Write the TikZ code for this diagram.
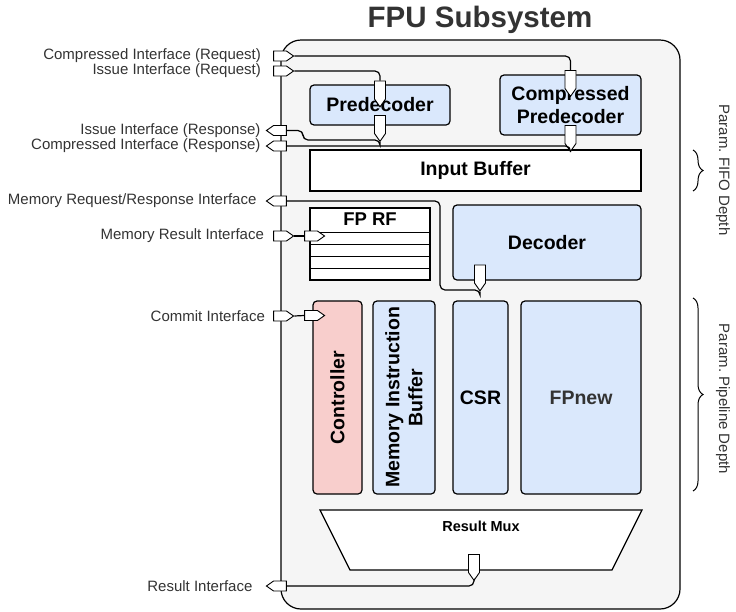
\documentclass[tikz,border=0pt]{standalone}
\usepackage{fontspec}
\setmainfont{Liberation Sans}
\usepackage{tikz}
\usetikzlibrary{shapes.symbols,decorations.pathreplacing,positioning}
\frenchspacing

\definecolor{fpblue}{HTML}{DAE8FC}
\definecolor{fpred}{HTML}{F8CECC}
\definecolor{fpgray}{HTML}{F5F5F5}
\definecolor{fptext}{HTML}{333333}

\tikzset{
	blk/.style={draw=black,line width=1.2pt,rounded corners=4pt,inner sep=0pt,align=center,
		font=\bfseries\fontsize{19.5}{23}\selectfont},
	port/.style={signal,draw=black,fill=white,line width=0.9pt,inner sep=0pt,signal pointer angle=70},
	hport/.style={port,minimum width=20pt,minimum height=10pt},
	vport/.style={port,minimum width=11pt,minimum height=18pt},
	lbl/.style={font=\fontsize{15}{17}\selectfont,text=fptext,inner sep=0pt},
	wire/.style={line width=1.2pt,rounded corners=5pt},
	param/.style={decorate,decoration={brace,amplitude=10pt},line width=1pt}
}

\begin{document}
\begin{tikzpicture}[x=1pt,y=-1pt]

	\useasboundingbox (0,0) rectangle (736,611);

	\node[font=\bfseries\fontsize{29.5}{32}\selectfont,text=fptext,anchor=base] (title) at (480,27) {FPU Subsystem};

	% subsystem frame
	\draw[fill=fpgray,line width=1.2pt,rounded corners=20pt] (281,40) rectangle (680,609);

	\node[blk,fill=fpblue,minimum width=140pt,minimum height=40pt] (pred) at (380,105) {Predecoder};
	\node[blk,fill=fpblue,minimum width=141pt,minimum height=60pt] (cpred) at (570.5,105) {Compressed\\Predecoder};
	\node[blk,fill=white,rounded corners=0pt,line width=2pt,minimum width=331pt,minimum height=41pt] (ibuf) at (475.5,170.5) {Input Buffer};

	% register file
	\node[blk,fill=white,rounded corners=0pt,line width=1.6pt,minimum width=120pt,minimum height=72pt] (rf) at (370,244) {};
	\node[font=\bfseries\fontsize{18.5}{20}\selectfont] (rftitle) at (370,219.5) {FP RF};
	\foreach \y in {232,244,256,268}
		\draw[line width=0.8pt] (310,\y) -- (430,\y);

	\node[blk,fill=fpblue,minimum width=188pt,minimum height=75pt] (dec) at (547,242.5) {Decoder};

	\node[blk,fill=fpred,rotate=90,minimum width=193pt,minimum height=49pt] (ctrl) at (337.5,397.5) {Controller};
	\node[blk,fill=fpblue,rotate=90,minimum width=193pt,minimum height=62pt] (mib) at (404,397.5) {Memory Instruction\\Buffer};
	\node[blk,fill=fpblue,minimum width=55pt,minimum height=193pt] (csr) at (480.5,397.5) {CSR};
	\node[blk,fill=fpblue,text=fptext,minimum width=120pt,minimum height=193pt] (fpnew) at (581,397.5) {FPnew};

	\draw[fill=white,line width=1.2pt] (320,510) -- (642,510) -- (612,570) -- (350,570) -- cycle;
	\node[font=\bfseries\fontsize{14.5}{16}\selectfont] (rmux) at (481,526) {Result Mux};

	% ports on the frame
	\node[hport,signal to=east] (crq) at (280,56) {};
	\node[hport,signal to=east] (irq) at (280,71) {};
	\node[hport,signal to=west] (irs) at (280,130.5) {};
	\node[hport,signal to=west] (crs) at (280,146) {};
	\node[hport,signal to=west] (mrr) at (280,201) {};
	\node[hport,signal to=east] (mri) at (280,236) {};
	\node[hport,signal to=east] (cmi) at (280,316) {};
	\node[hport,signal to=west] (rsi) at (280,586) {};

	% ports on the blocks
	\node[hport,signal to=east] (rfin) at (311,236) {};
	\node[hport,signal to=east] (ctlin) at (311,315.5) {};
	\node[vport,signal to=south] (pdin) at (380,90) {};
	\node[vport,signal to=south] (pdout) at (380,124.5) {};
	\node[vport,signal to=south] (cpin) at (570.5,79.5) {};
	\node[vport,signal to=south] (cpout) at (570.5,134.5) {};
	\node[vport,signal to=south] (decout) at (480,274) {};
	\node[vport,signal to=south] (rmout) at (474,563.5) {};

	\node[lbl,left=12pt of crq] (lcrq) {Compressed Interface (Request)};
	\node[lbl,left=12pt of irq] (lirq) {Issue Interface (Request)};
	\node[lbl,left=5pt of irs] (lirs) {Issue Interface (Response)};
	\node[lbl,left=5pt of crs] (lcrs) {Compressed Interface (Response)};
	\node[lbl,left=9pt of mrr] (lmrr) {Memory Request/Response Interface};
	\node[lbl,left=9pt of mri] (lmri) {Memory Result Interface};
	\node[lbl,left=8pt of cmi] (lcmi) {Commit Interface};
	\node[lbl,left=13pt of rsi] (lrsi) {Result Interface};

	% connections
	\coordinate (pbend) at (303,140);
	\coordinate (mbend) at (440,290);
	\draw[wire] (crq.east) -| (cpin.north);
	\draw[wire] (irq.east) -| (pdin.north);
	\draw[wire] (pdout.south) |- (pbend) |- (irs.east);
	\draw[wire] (cpout.south) |- (crs.east);
	\draw[wire] (decout.south) |- (mbend) |- (mrr.east);
	\draw[wire] (mri.east) -- (rfin.west);
	\draw[wire] (cmi.east) -- (ctlin.west);
	\draw[wire] (rmout.south) |- (rsi.east);

	% parameters
	\draw[param] (693,150) -- (693,191);
	\draw[param] (693,298) -- (693,491);
	\node[lbl,rotate=-90] (pfifo) at (723,170) {Param. FIFO Depth};
	\node[lbl,rotate=-90] (ppipe) at (723,399) {Param. Pipeline Depth};

\end{tikzpicture}
\end{document}
